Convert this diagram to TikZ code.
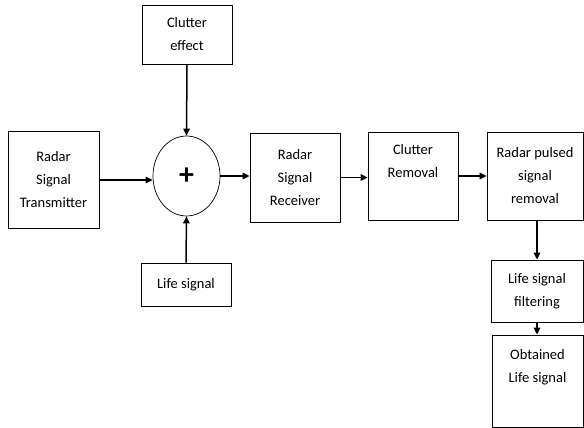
\documentclass[tikz,border=0pt]{standalone}
\usepackage{fontspec}
\setmainfont{Carlito}
\usetikzlibrary{arrows.meta,shapes.geometric}
\tikzset{
  blk/.style={draw, black, line width=0.8pt, align=center, inner sep=1pt,
    font=\fontsize{14.5}{23}\selectfont},
  arr/.style={line width=1.5pt, -{Triangle[length=7pt,width=6.5pt]}}
}
\begin{document}
\begin{tikzpicture}[x=1pt,y=-1pt]
    \useasboundingbox (0,0) rectangle (584,428);
    \draw (53.5,180) node[blk, minimum width=91pt, minimum height=97pt](trans){Radar\\Signal\\Transmitter}
       (187,34.5) node[blk, minimum width=90pt, minimum height=59pt](clut){Clutter\\effect}
       (186.5,176) node[ellipse, draw, black, line width=0.7pt, minimum width=67pt, minimum height=80pt, inner sep=0pt](sum){\fontsize{30}{30}\selectfont\bfseries +}
       (186,284.5) node[blk, minimum width=90pt, minimum height=43pt](life){Life signal}
       (295,177.5) node[blk, minimum width=90pt, minimum height=89pt](recv){Radar\\Signal\\Receiver}
       (413,176) node[blk, minimum width=90pt, minimum height=88pt](crem){Clutter\\Removal\\\strut}
       (535,176) node[blk, minimum width=96pt, minimum height=88pt](puls){Radar pulsed\\signal\\removal}
       (537,291) node[blk, minimum width=92pt, minimum height=62pt](filt){Life signal\\filtering}
       (537.5,381) node[blk, minimum width=91pt, minimum height=92pt](obt){Obtained\\Life signal\\\strut};

       \draw[arr] (trans.east) -- (trans.east -| sum.west);
       \draw[arr] (clut.south) -- (sum.north);
       \draw[arr] (life.north) -- (sum.south);
       \draw[arr] (sum.east) -- (sum.east -| recv.west);
       \draw[arr] (recv.east) -- (recv.east -| crem.west);
       \draw[arr] (crem.east) -- (crem.east -| puls.west);
       \draw[arr] (filt.north |- puls.south) -- (filt.north);
       \draw[arr] (filt.south) -- (obt.north -| filt.south);
    \end{tikzpicture}
\end{document}
